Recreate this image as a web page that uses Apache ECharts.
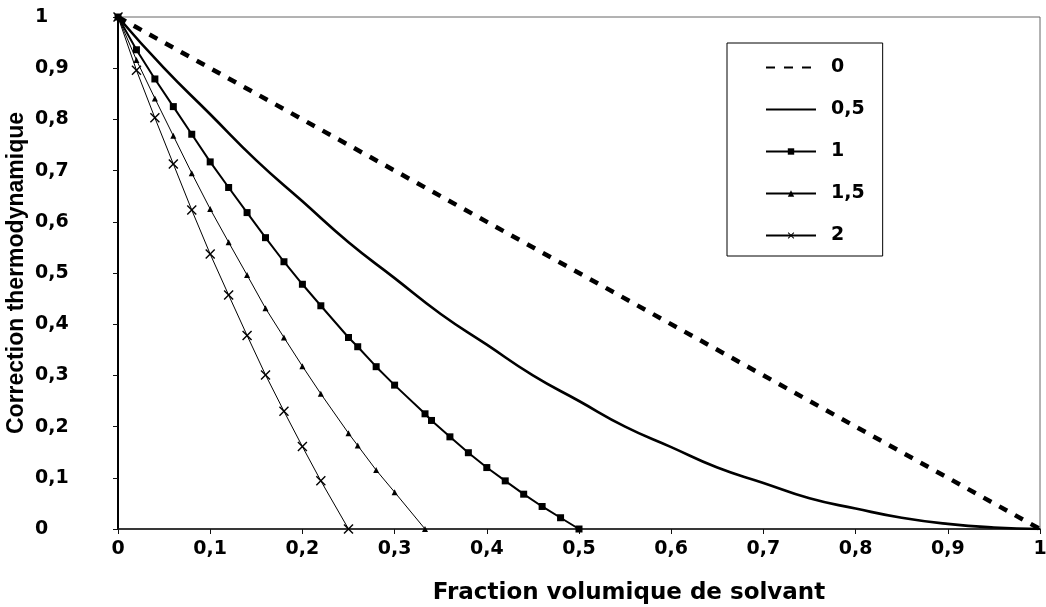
<!DOCTYPE html>
<html>
<head>
<meta charset="utf-8">
<script src="https://cdn.jsdelivr.net/npm/echarts@6/dist/echarts.min.js"></script>
<style>
html,body{margin:0;padding:0;background:#fff;}
#chart{width:1046px;height:607px;}
</style>
</head>
<body>
<div id="chart"></div>
<script>
// ---- data ----
var seriesNames = ['0', '0,5', '1', '1,5', '2'];

var x0 = [0, 0.5, 1];
var y0 = [1, 0.5, 0];

var x05 = [0, 0.05, 0.1, 0.15, 0.2, 0.25, 0.3, 0.35, 0.4, 0.45, 0.5, 0.55, 0.6, 0.65, 0.7, 0.75, 0.8, 0.85, 0.9, 0.95, 1];
var y05 = [1, 0.90, 0.81, 0.72, 0.64, 0.56, 0.49, 0.42, 0.36, 0.30, 0.25, 0.20, 0.16, 0.12, 0.09, 0.06, 0.04, 0.022, 0.01, 0.003, 0];

var x1 = [0, 0.02, 0.04, 0.06, 0.08, 0.10, 0.12, 0.14, 0.16, 0.18, 0.20, 0.22, 0.25, 0.26, 0.28, 0.30, 0.333, 0.34, 0.36, 0.38, 0.40, 0.42, 0.44, 0.46, 0.48, 0.50];
var y1 = [1, 0.936, 0.879, 0.825, 0.771, 0.717, 0.667, 0.618, 0.569, 0.522, 0.478, 0.436, 0.374, 0.356, 0.317, 0.281, 0.225, 0.212, 0.180, 0.149, 0.120, 0.094, 0.068, 0.044, 0.022, 0];

var x15 = [0, 0.02, 0.04, 0.06, 0.08, 0.10, 0.12, 0.14, 0.16, 0.18, 0.20, 0.22, 0.25, 0.26, 0.28, 0.30, 0.333];
var y15 = [1, 0.916, 0.841, 0.768, 0.695, 0.625, 0.560, 0.496, 0.431, 0.374, 0.318, 0.264, 0.187, 0.163, 0.115, 0.072, 0];

var x2 = [0, 0.02, 0.04, 0.06, 0.08, 0.10, 0.12, 0.14, 0.16, 0.18, 0.20, 0.22, 0.25];
var y2 = [1, 0.896, 0.803, 0.713, 0.623, 0.537, 0.457, 0.378, 0.301, 0.230, 0.161, 0.094, 0];

function pairs(xs, ys) { return xs.map(function (x, i) { return [x, ys[i]]; }); }
function fmt(v) { return (Math.round(v * 10) / 10).toString().replace('.', ','); }

var FONT = '"DejaVu Sans", "Liberation Sans", Arial, sans-serif';
var crossPath = 'path://M0,1L1,0L5,4L9,0L10,1L6,5L10,9L9,10L5,6L1,10L0,9L4,5Z';

var chart = echarts.init(document.getElementById('chart'), null, {renderer: 'canvas'});
chart.setOption({
  animation: false,
  backgroundColor: '#ffffff',
  grid: {left: 118, right: 6, top: 17, bottom: 78, show: true, borderColor: '#666', borderWidth: 1,
         backgroundColor: 'transparent', containLabel: false, outerBoundsMode: 'none'},
  legend: {
    data: [
      {name: '0', itemStyle: {opacity: 0}},
      {name: '0,5', itemStyle: {opacity: 0}},
      {name: '1'}, {name: '1,5'}, {name: '2'}
    ],
    orient: 'vertical',
    left: 727, top: 43,
    padding: [15, 18, 11, 38],
    itemWidth: 50, itemHeight: 8, itemGap: 23,
    borderColor: '#000', borderWidth: 1,
    textStyle: {fontFamily: FONT, fontWeight: 'bold', fontSize: 19, color: '#000', padding: [0, 0, 0, 10]}
  },
  xAxis: {
    type: 'value', min: 0, max: 1, interval: 0.1,
    name: 'Fraction volumique de solvant', nameLocation: 'middle', nameGap: 53, nameMoveOverlap: false,
    nameTextStyle: {fontFamily: FONT, fontWeight: 'bold', fontSize: 23, color: '#000', padding: [0, 0, 0, 100]},
    axisLine: {show: true, onZero: false, lineStyle: {color: '#111', width: 1.5}},
    axisTick: {show: true, inside: false, length: 5, lineStyle: {color: '#111'}},
    splitLine: {show: false},
    axisLabel: {margin: 11, fontFamily: FONT, fontWeight: 'bold', fontSize: 19, color: '#000', formatter: fmt}
  },
  yAxis: {
    type: 'value', min: 0, max: 1, interval: 0.1,
    name: 'Correction thermodynamique', nameLocation: 'middle', nameGap: 90, nameRotate: 90, nameMoveOverlap: false,
    nameTextStyle: {fontFamily: '"Liberation Sans Narrow", "Liberation Sans", Arial, sans-serif', fontWeight: 'bold', fontSize: 23, color: '#000'},
    axisLine: {show: true, onZero: false, lineStyle: {color: '#000', width: 2}},
    axisTick: {show: true, inside: false, length: 5, lineStyle: {color: '#111'}},
    splitLine: {show: false},
    axisLabel: {margin: 83, align: 'left', fontFamily: FONT, fontWeight: 'bold', fontSize: 19, color: '#000', formatter: fmt}
  },
  series: [
    {name: '0', type: 'line', data: pairs(x0, y0), symbol: 'none', showSymbol: false,
     lineStyle: {color: '#000', width: 4.5, type: [9, 9]}, itemStyle: {color: '#000'}},
    {name: '0,5', type: 'line', data: pairs(x05, y05), smooth: true, symbol: 'none', showSymbol: false,
     lineStyle: {color: '#000', width: 2.6}, itemStyle: {color: '#000'}},
    {name: '1', type: 'line', data: pairs(x1, y1), symbol: 'rect', symbolSize: 7,
     lineStyle: {color: '#000', width: 2}, itemStyle: {color: '#000'}},
    {name: '1,5', type: 'line', data: pairs(x15, y15), symbol: 'triangle', symbolSize: 6,
     lineStyle: {color: '#000', width: 1}, itemStyle: {color: '#000'}},
    {name: '2', type: 'line', data: pairs(x2, y2), symbol: crossPath, symbolSize: 10,
     lineStyle: {color: '#000', width: 1}, itemStyle: {color: '#000'}}
  ]
});
</script>
</body>
</html>
